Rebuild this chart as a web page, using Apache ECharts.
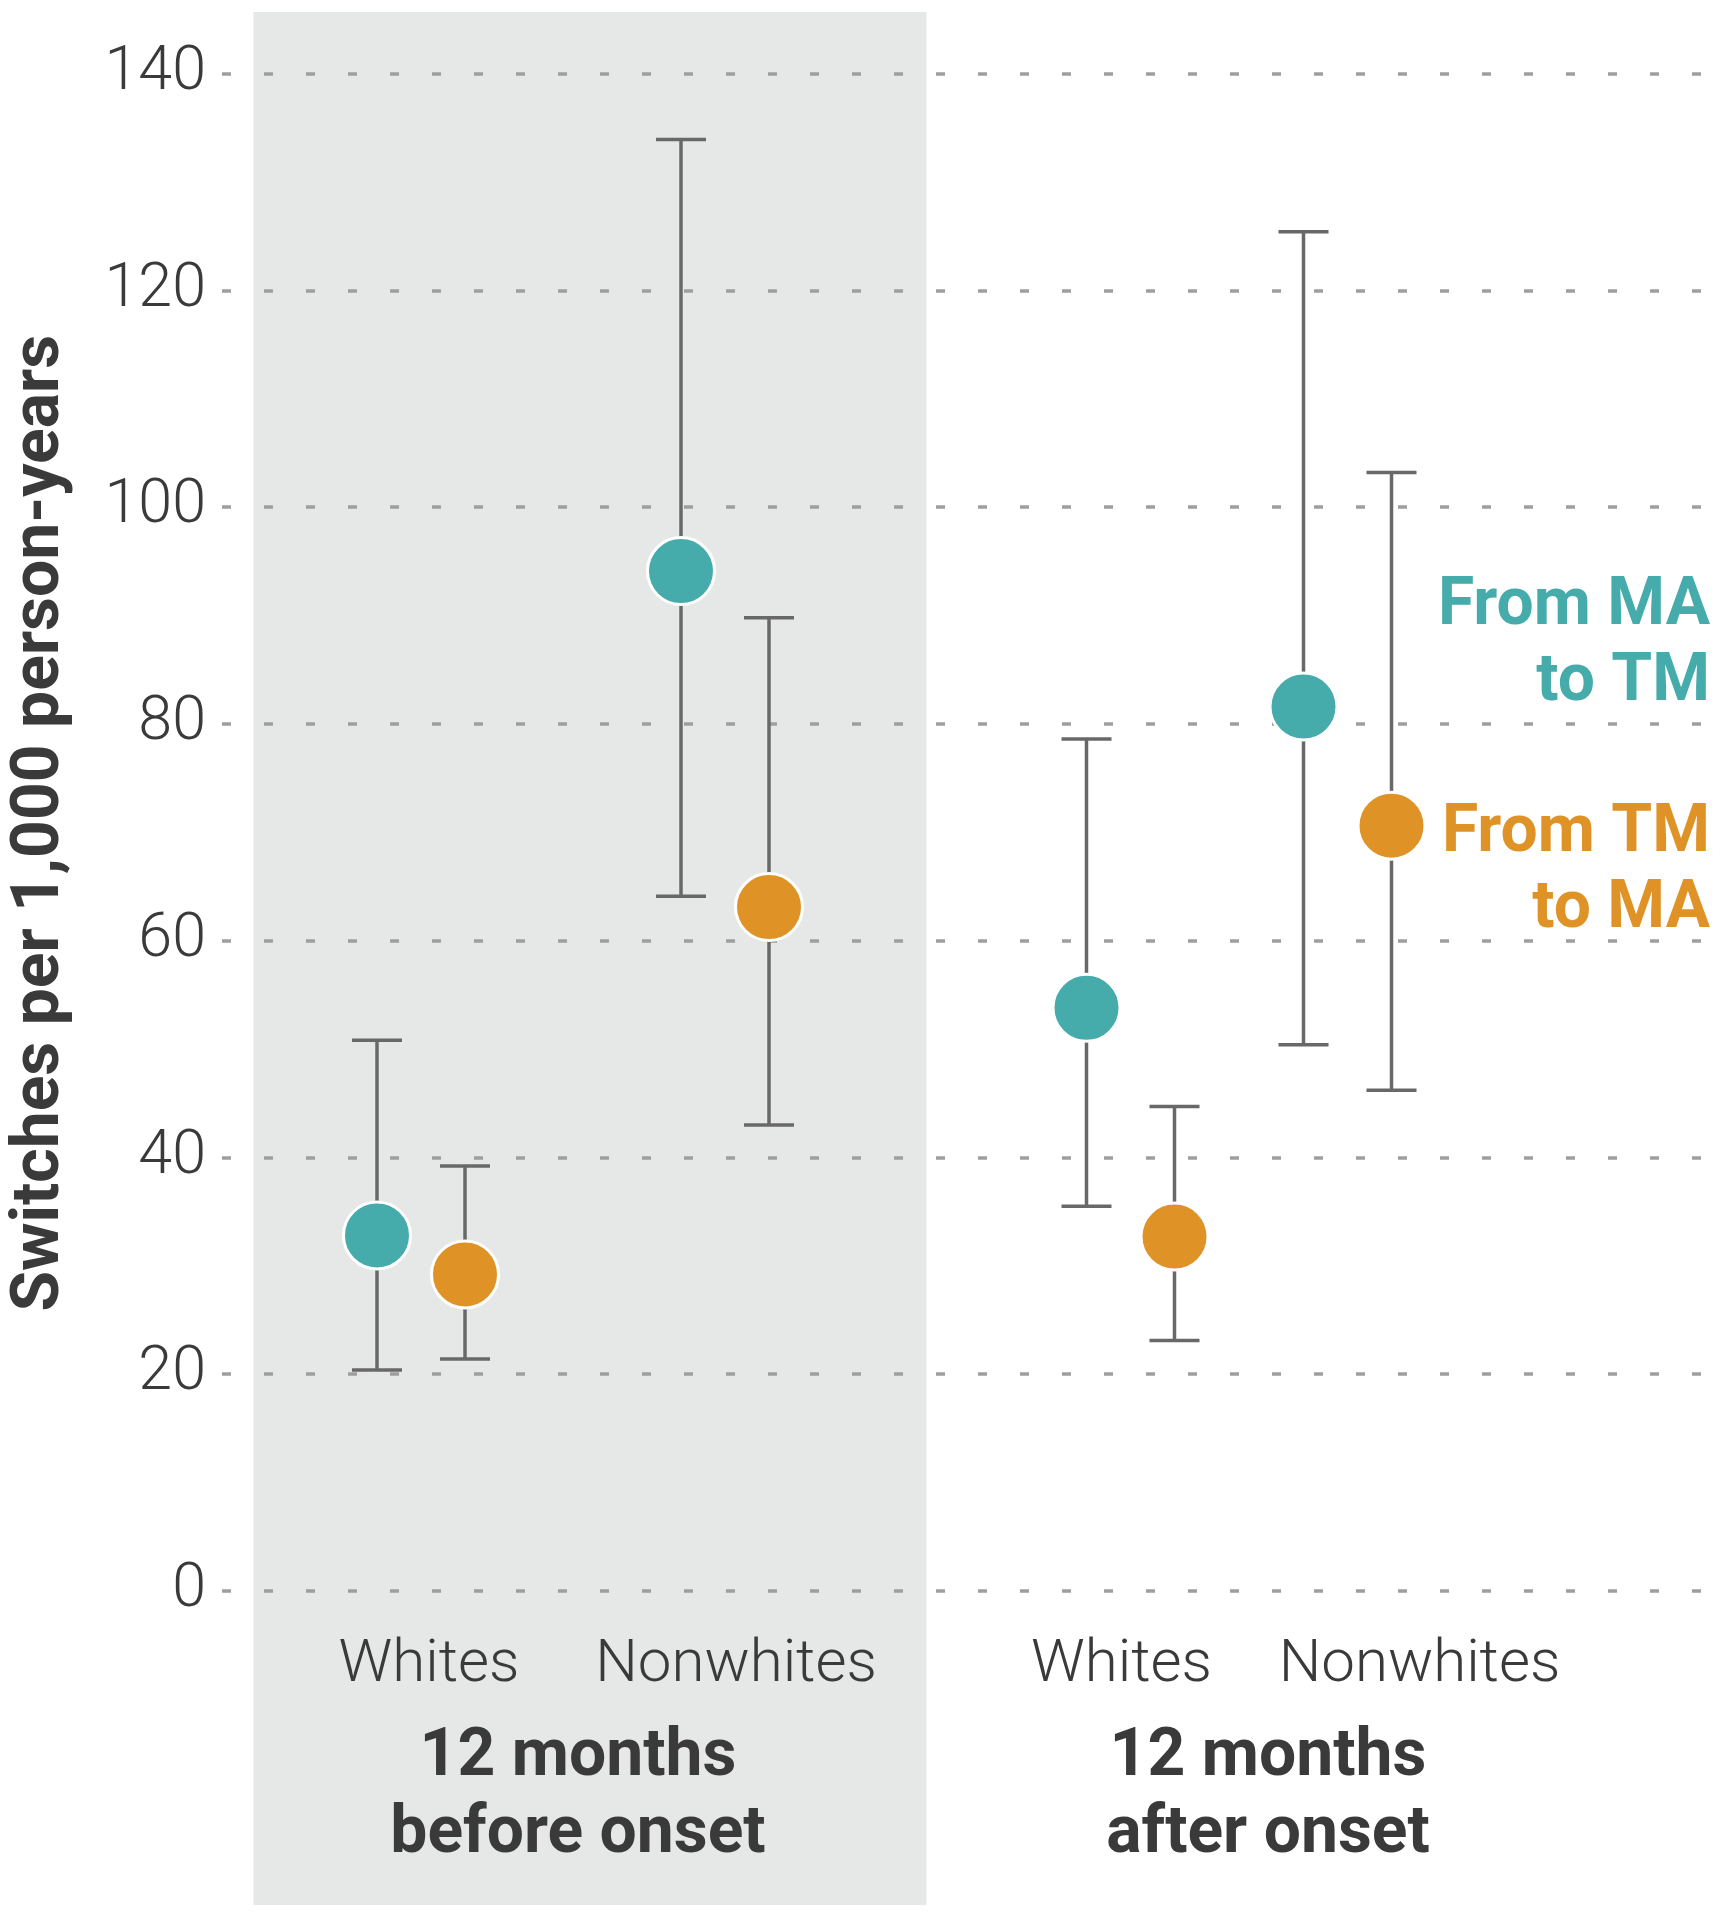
<!DOCTYPE html>
<html><head><meta charset="utf-8">
<script src="https://cdn.jsdelivr.net/npm/echarts@6/dist/echarts.min.js"></script>
<style>html,body{margin:0;padding:0;background:#fff}#c{width:1723px;height:1920px}</style>
</head><body><div id="c"></div>
<script>
// ---- data ----
const periods = ['12 months\nbefore onset', '12 months\nafter onset'];
const races = ['Whites', 'Nonwhites'];
const seriesNames = ['From MA\nto TM', 'From TM\nto MA'];
const yTitle = 'Switches per 1,000 person-years';
// order: before-Whites, before-Nonwhites, after-Whites, after-Nonwhites
const maRate = [32.8, 94.1, 53.8, 81.6];
const maLow  = [20.4, 64.1, 35.5, 50.4];
const maHigh = [50.8, 133.9, 78.6, 125.4];
const tmRate = [29.2, 63.1, 32.7, 70.6];
const tmLow  = [21.4, 43.0, 23.1, 46.2];
const tmHigh = [39.2, 89.8, 44.7, 103.2];
const yMin = 0, yMax = 140, yStep = 20;

// ---- style ----
const TEAL = '#45abab', ORANGE = '#df9327', BAR = '#686868', TXT = '#3a3a3a';
const BOLD = "Roboto, sans-serif";
const LIGHT = "Roboto, sans-serif";
const GTOP = 73.5, GBOTTOM = 329;
const OFF = 44;

const chart = echarts.init(document.getElementById('c'), null, {renderer: 'canvas'});

function errRender(off) {
  return function (params, api) {
    const lo = api.coord([api.value(0), api.value(1)]);
    const hi = api.coord([api.value(0), api.value(2)]);
    const x = lo[0] + off;
    const st = {stroke: BAR, lineWidth: 3.5, fill: null};
    return {type: 'group', children: [
      {type: 'line', shape: {x1: x, y1: lo[1], x2: x, y2: hi[1]}, style: st},
      {type: 'line', shape: {x1: x - 25, y1: lo[1], x2: x + 25, y2: lo[1]}, style: st},
      {type: 'line', shape: {x1: x - 25, y1: hi[1], x2: x + 25, y2: hi[1]}, style: st}
    ]};
  };
}

const labelShift = [[16, 22], [-18, 144]];
function xAxisFor(gi, p) {
  const rich = {};
  labelShift[p].forEach((s, i) => {
    rich['r' + i] = {fontFamily: LIGHT, fontWeight: 300, fontSize: 60, color: TXT,
      padding: s >= 0 ? [0, 0, 0, s] : [0, -s, 0, 0]};
  });
  return {
    type: 'category', gridIndex: gi, data: races,
    axisLine: {show: false}, axisTick: {show: false}, splitLine: {show: false},
    axisLabel: {interval: 0, margin: 45, hideOverlap: false,
      formatter: (v, i) => '{r' + i + '|' + v + '}', rich: rich}
  };
}

const series = [];
[0, 1].forEach(p => {
  const gi = p + 1;
  const idx = [2 * p, 2 * p + 1];
  [[maRate, maLow, maHigh, -OFF, TEAL], [tmRate, tmLow, tmHigh, OFF, ORANGE]].forEach(([r, lo, hi, off, col]) => {
    series.push({
      type: 'custom', xAxisIndex: gi, yAxisIndex: gi, z: 3,
      renderItem: errRender(off), encode: {x: 0, y: [1, 2]},
      data: idx.map((d, k) => [k, lo[d], hi[d]])
    });
    series.push({
      type: 'scatter', xAxisIndex: gi, yAxisIndex: gi, z: 5,
      symbol: 'circle', symbolSize: 67, symbolOffset: [off, 0],
      itemStyle: {color: col, borderColor: '#ffffff', borderWidth: 3, opacity: 1},
      emphasis: {disabled: true},
      data: idx.map((d, k) => [k, r[d]])
    });
  });
});

const option = {
  backgroundColor: '#ffffff',
  animation: false,
  grid: [
    {left: 216, right: 15, top: GTOP, bottom: GBOTTOM},
    {left: 269, width: 608, top: GTOP, bottom: GBOTTOM},
    {left: 1022, width: 434, top: GTOP, bottom: GBOTTOM}
  ],
  xAxis: [
    {type: 'category', gridIndex: 0, data: ['a'], show: false},
    xAxisFor(1, 0),
    xAxisFor(2, 1)
  ],
  yAxis: [
    {type: 'value', gridIndex: 0, min: yMin, max: yMax, interval: yStep,
      name: yTitle, nameLocation: 'middle', nameRotate: 90, nameGap: 148,
      nameTextStyle: {fontFamily: BOLD, fontWeight: 'bold', fontSize: 66, color: TXT, padding: [0, 0, 0, 18]},
      axisLine: {show: false}, axisTick: {show: false},
      axisLabel: {margin: 16, fontFamily: LIGHT, fontWeight: 300, fontSize: 61, color: TXT},
      splitLine: {show: true, lineStyle: {color: '#9e9e9e', width: 3.5, type: [9, 33]}}
    },
    {type: 'value', gridIndex: 1, min: yMin, max: yMax, interval: yStep, show: false, splitLine: {show: false}},
    {type: 'value', gridIndex: 2, min: yMin, max: yMax, interval: yStep, show: false, splitLine: {show: false}}
  ],
  graphic: [
    {type: 'rect', z: -10, silent: true, shape: {x: 253.5, y: 12, width: 673, height: 1893}, style: {fill: '#e6e7e7'}},
    {type: 'text', z: 10, style: {text: periods[0], x: 578, y: 1720, align: 'center', verticalAlign: 'top',
      fontFamily: BOLD, fontWeight: 'bold', fontSize: 66, lineHeight: 77, fill: TXT}},
    {type: 'text', z: 10, style: {text: periods[1], x: 1268, y: 1720, align: 'center', verticalAlign: 'top',
      fontFamily: BOLD, fontWeight: 'bold', fontSize: 66, lineHeight: 77, fill: TXT}},
    {type: 'text', z: 10, style: {text: seriesNames[0], x: 1710, y: 569, align: 'right', verticalAlign: 'top',
      fontFamily: BOLD, fontWeight: 'bold', fontSize: 66, lineHeight: 76, fill: TEAL}},
    {type: 'text', z: 10, style: {text: seriesNames[1], x: 1710, y: 796, align: 'right', verticalAlign: 'top',
      fontFamily: BOLD, fontWeight: 'bold', fontSize: 66, lineHeight: 76, fill: ORANGE}}
  ],
  series: series
};
chart.setOption(option);
</script>
</body></html>
